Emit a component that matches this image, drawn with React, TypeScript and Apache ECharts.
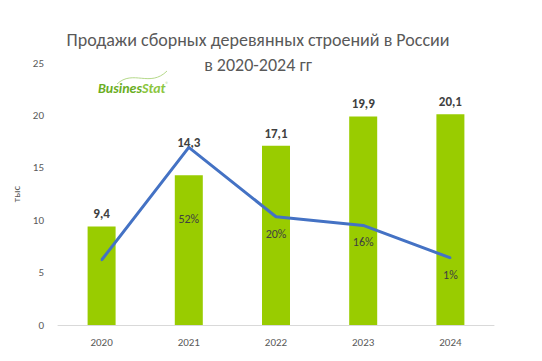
import React, { useEffect, useRef } from "react";
import * as echarts from "echarts";

const categories = ["2020", "2021", "2022", "2023", "2024"];
const salesValues = [9.4, 14.3, 17.1, 19.9, 20.1];
const growthValues = [0, 52, 20, 16, 1];
const growthLabels = ["", "52%", "20%", "16%", "1%"];
const yTicks = [0, 5, 10, 15, 20, 25];

export default function App() {
  const ref = useRef<HTMLDivElement>(null);
  useEffect(() => {
    if (!ref.current) return;
    const chart = echarts.init(ref.current, null, { renderer: "svg" });
    const font = "Calibri, 'Open Sans', 'Noto Sans', sans-serif";
    chart.setOption({
      animation: false,
      backgroundColor: "#ffffff",
      textStyle: { fontFamily: font },
      title: {
        text: "Продажи сборных деревянных строений в России\nв 2020-2024 гг",
        left: 253,
        textAlign: "center",
        top: 22,
        textStyle: {
          fontFamily: font,
          fontSize: 18,
          fontWeight: "normal",
          color: "#595959",
          lineHeight: 25,
        },
      },
      grid: { left: 58, right: 48, top: 63, bottom: 36, containLabel: false },
      xAxis: {
        type: "category",
        data: categories,
        axisLine: { show: true, lineStyle: { color: "#d9d9d9", width: 1 } },
        axisTick: { show: false },
        axisLabel: { color: "#595959", fontSize: 11, margin: 12 },
      },
      yAxis: [
        {
          type: "value",
          min: yTicks[0],
          max: yTicks[yTicks.length - 1],
          interval: 5,
          name: "тыс",
          nameLocation: "middle",
          nameGap: 36,
          nameRotate: 90,
          nameTextStyle: { color: "#595959", fontSize: 11 },
          axisLine: { show: false },
          axisTick: { show: false },
          splitLine: { show: false },
          axisLabel: { color: "#595959", fontSize: 11, margin: 14 },
        },
        {
          type: "value",
          min: -30,
          max: 91,
          show: false,
          splitLine: { show: false },
        },
      ],
      series: [
        {
          type: "bar",
          data: salesValues.map((v, i) => ({
            value: v,
            label: i === 1 ? { offset: [0, -20] } : undefined,
          })),
          barWidth: 28,
          itemStyle: { color: "#99cc00" },
          label: {
            show: true,
            position: "top",
            distance: 6,
            formatter: (p: any) => String(p.value).replace(".", ","),
            color: "#404040",
            fontSize: 13,
            fontWeight: "bold",
          },
        },
        {
          type: "line",
          yAxisIndex: 1,
          data: growthValues.map((v, i) => ({
            value: v,
            label: i === 1 ? { offset: [0, 55] } : undefined,
          })),
          symbol: "circle",
          symbolSize: 2,
          showSymbol: true,
          lineStyle: { color: "#4472c4", width: 3 },
          itemStyle: { color: "#4472c4" },
          label: {
            show: true,
            position: "bottom",
            distance: 10,
            color: "#404040",
            fontSize: 12,
            formatter: (p: any) => growthLabels[p.dataIndex],
          },
          z: 5,
        },
      ],
      graphic: [
        {
          type: "bezierCurve",
          shape: { x1: 117, y1: 84, x2: 167, y2: 71, cpx1: 133, cpy1: 69, cpx2: 150, cpy2: 88 },
          style: { stroke: "#b5d98a", lineWidth: 1, fill: "none" },
        },
        {
          type: "text",
          left: 98,
          top: 81,
          style: {
            text: "{a|Busines}{b|Stat}{c|®}",
            rich: {
              a: { fontFamily: font, fontSize: 14, fontWeight: "bold", fontStyle: "italic", fill: "#6aae1f" },
              b: { fontFamily: font, fontSize: 14, fontWeight: "bold", fontStyle: "italic", fill: "#8cc63f" },
              c: { fontFamily: font, fontSize: 6, fill: "#8cc63f", verticalAlign: "top", padding: [0, 0, 8, 0] },
            },
          },
        },
      ],
    });
    return () => chart.dispose();
  }, []);
  return <div ref={ref} style={{ width: 542, height: 361, position: "absolute", left: 0, top: 0 }} />;
}
